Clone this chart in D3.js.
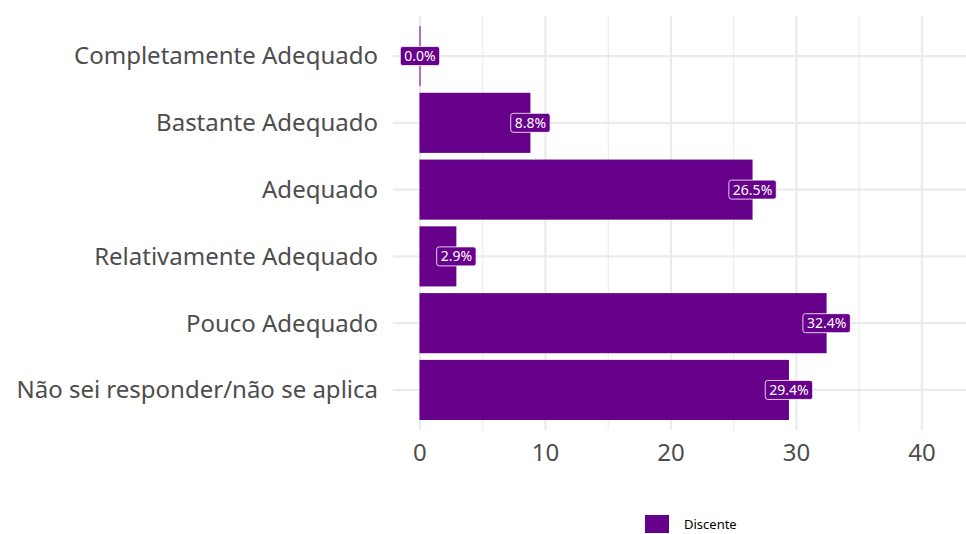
<!DOCTYPE html>
<html>
<head>
<meta charset="utf-8">
<script src="https://cdn.jsdelivr.net/npm/d3@7"></script>
<style>
  body { margin: 0; background: #fff; }
  svg text { font-family: "Noto Sans", sans-serif; }
</style>
</head>
<body>
<svg id="chart" width="966" height="534"></svg>
<script>
// categories from top to bottom
const categorias = [
  "Completamente Adequado",
  "Bastante Adequado",
  "Adequado",
  "Relativamente Adequado",
  "Pouco Adequado",
  "Não sei responder/não se aplica"
];
const percentuais = [0.0, 8.8, 26.5, 2.9, 32.4, 29.4];
const xTicks = [0, 10, 20, 30, 40];
const xMinor = [5, 15, 25, 35];
const serie = "Discente";

const cor = "#67008a";
const svg = d3.select("#chart");

const panel = { left: 393, right: 966, top: 16, bottom: 430 };

// x scale, 0 sits a little inside the panel (ggplot expansion)
const x = d3.scaleLinear().domain([-2.15, 43.5]).range([panel.left, panel.left + 45.65 * 12.55]);

const y = d3.scaleBand()
  .domain(categorias)
  .range([panel.top, panel.bottom])
  .paddingInner(0.1)
  .paddingOuter(0.15);

const g = svg.append("g");

// grid
g.selectAll(".minor").data(xMinor).enter().append("line")
  .attr("x1", d => x(d)).attr("x2", d => x(d))
  .attr("y1", panel.top).attr("y2", panel.bottom)
  .attr("stroke", "#ebebeb").attr("stroke-width", 1.1);
g.selectAll(".major").data(xTicks).enter().append("line")
  .attr("x1", d => x(d)).attr("x2", d => x(d))
  .attr("y1", panel.top).attr("y2", panel.bottom)
  .attr("stroke", "#ebebeb").attr("stroke-width", 2.2);
g.selectAll(".hgrid").data(categorias).enter().append("line")
  .attr("x1", panel.left).attr("x2", panel.right)
  .attr("y1", d => y(d) + y.bandwidth() / 2).attr("y2", d => y(d) + y.bandwidth() / 2)
  .attr("stroke", "#ebebeb").attr("stroke-width", 2.2);

// bars
g.selectAll(".bar").data(categorias).enter().append("rect")
  .attr("x", x(0) - 0.5)
  .attr("y", d => y(d))
  .attr("width", (d, i) => Math.max(1, x(percentuais[i]) - x(0) + 0.5))
  .attr("height", y.bandwidth())
  .attr("fill", cor);

// labels
const lab = g.selectAll(".lab").data(categorias).enter().append("g")
  .attr("transform", (d, i) => `translate(${x(percentuais[i])},${y(d) + y.bandwidth() / 2})`);
lab.append("text")
  .attr("text-anchor", "middle")
  .attr("dy", "0.35em")
  .attr("fill", "#fff")
  .style("font-size", "14px")
  .text((d, i) => percentuais[i].toFixed(1) + "%");
lab.each(function() {
  const t = d3.select(this).select("text");
  const bb = t.node().getBBox();
  d3.select(this).insert("rect", "text")
    .attr("x", bb.x - 4).attr("y", -9.5)
    .attr("width", bb.width + 8).attr("height", 19)
    .attr("rx", 2.5)
    .attr("fill", cor)
    .attr("stroke", "#fff")
    .attr("stroke-width", 0.8);
});

// y axis labels
g.selectAll(".ylab").data(categorias).enter().append("text")
  .attr("x", 378)
  .attr("y", d => y(d) + y.bandwidth() / 2)
  .attr("dy", "0.35em")
  .attr("text-anchor", "end")
  .attr("fill", "#4d4d4d")
  .style("font-size", "24px")
  .text(d => d);

// x axis labels
g.selectAll(".xlab").data(xTicks).enter().append("text")
  .attr("x", d => x(d))
  .attr("y", 453)
  .attr("dy", "0.35em")
  .attr("text-anchor", "middle")
  .attr("fill", "#4d4d4d")
  .style("font-size", "24px")
  .text(d => d);

// legend
const leg = svg.append("g").attr("transform", "translate(645,515)");
leg.append("rect").attr("width", 24).attr("height", 18).attr("fill", cor);
leg.append("text").attr("x", 39).attr("y", 9).attr("dy", "0.35em")
  .attr("fill", "#000").style("font-size", "13px").text(serie);
</script>
</body>
</html>
